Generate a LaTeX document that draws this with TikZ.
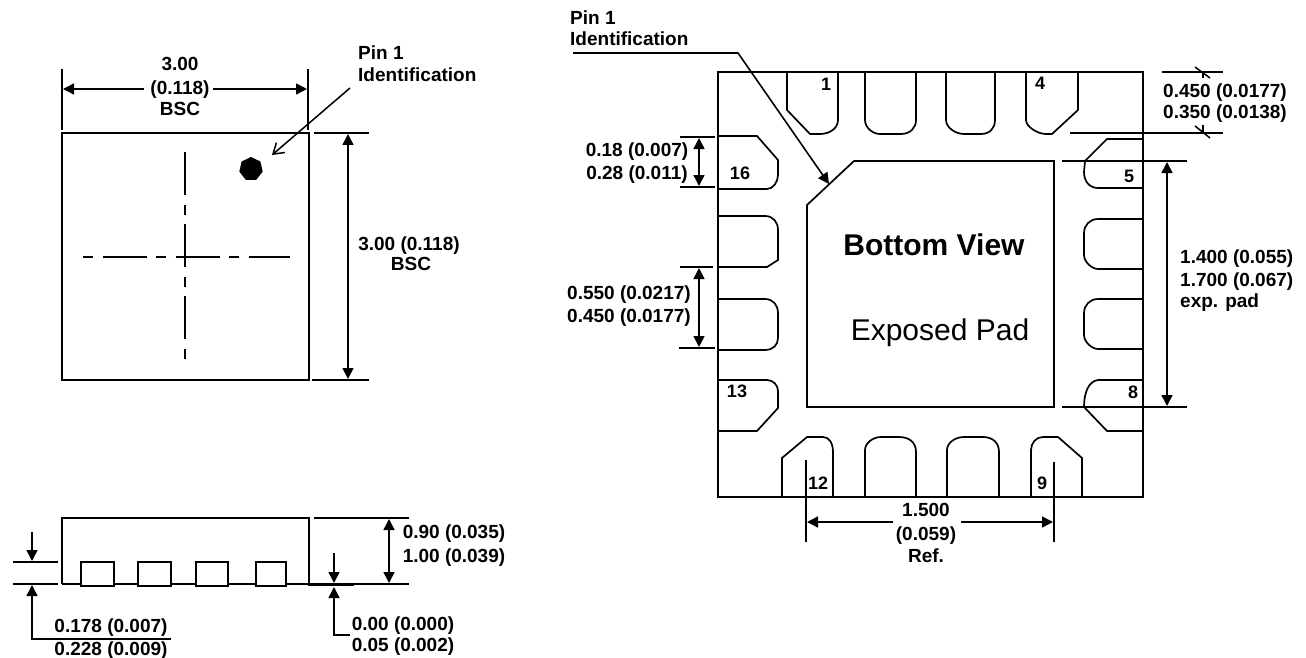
\documentclass[tikz,border=0pt]{standalone}
\usepackage{fontspec}
\setmainfont{Liberation Sans}
\usetikzlibrary{arrows.meta,shapes.geometric}
\tikzset{
  body/.style={line width=1.7pt},
  extline/.style={line width=2.1pt},
  dimline/.style={line width=1.6pt,{Triangle[length=11pt,width=11pt]}-{Triangle[length=11pt,width=11pt]}},
  dimend/.style={line width=1.6pt,-{Triangle[length=11pt,width=11pt]}},
  lbl/.style={inner sep=0pt,text height=13.7pt,text depth=0pt,font=\fontsize{19}{22}\selectfont\bfseries},
  pinlbl/.style={inner sep=0pt,text height=13pt,text depth=0pt,font=\fontsize{18}{20}\selectfont\bfseries},
  biglbl/.style={inner sep=0pt,text height=21.5pt,text depth=0pt,font=\fontsize{30}{34}\selectfont},
}
\begin{document}
\begin{tikzpicture}[x=1pt,y=-1pt]
    \useasboundingbox (0,0) rectangle (1306,658);

    % Dibuja la vista superior
    \draw[body] (62,133) rectangle (309,380);
    \node[regular polygon,regular polygon sides=7,fill=black,inner sep=0pt,minimum size=24pt] (dot) at (251,169) {};
    \draw[line width=1.4pt,dash pattern=on 43pt off 10pt on 10pt off 9pt] (185,152) -- (185,359);
    \draw[line width=1.4pt,dash pattern=on 10pt off 9.5pt on 44pt off 9.5pt] (83,257) -- (290,257);

    % Dibuja las cotas de la vista superior
    \draw[extline] (62,69) -- (62,130);
    \draw[extline] (308,69) -- (308,130);
    \draw[dimend] (144,89) -- (63,89);
    \draw[dimend] (213,89) -- (307,89);
    \node[lbl] (topa) at (180,64) {3.00};
    \node[lbl] (topb) at (180,88) {(0.118)};
    \node[lbl] (topc) at (180,109) {BSC};
    \draw[extline] (314,133) -- (369,133);
    \draw[extline] (312,380) -- (369,380);
    \draw[dimline] (348,134) -- (348,379);
    \node[lbl] (sidea) at (409,244) {3.00 (0.118)};
    \node[lbl] (sideb) at (411,264) {BSC};

    % Dibuja la marca del pin 1
    \node[lbl,anchor=west] (pina) at (358,53) {Pin 1};
    \node[lbl,anchor=west] (pinb) at (358,75) {Identification};
    \draw[line width=1.5pt,-{Straight Barb[length=10pt,width=13pt]}] (350,88) -- (272,155);

    % Dibuja la vista lateral
    \draw[body] (62,584) -- (62,518) -- (309,518) -- (309,584);
    \draw[line width=1.4pt] (62,584) -- (309,584);
    \draw[body,fill=white] (81,562) rectangle (114,586);
    \draw[body,fill=white] (138,562) rectangle (171,586);
    \draw[body,fill=white] (196,562) rectangle (228,586);
    \draw[body,fill=white] (256,562) rectangle (286,586);

    % Dibuja las cotas de la vista lateral
    \draw[extline] (13,562) -- (58,562);
    \draw[extline] (13,584) -- (58,584);
    \draw[dimend] (32,532) -- (32,561);
    \draw[dimend] (171,639) -- (32,639) -- (32,585);
    \node[lbl] (thka) at (111,626) {0.178 (0.007)};
    \node[lbl] (thkb) at (111,649) {0.228 (0.009)};
    \draw[extline] (314,518) -- (409,518);
    \draw[line width=1.4pt] (309,584) -- (409,584);
    \draw[line width=2.8pt] (308,585) -- (354,585);
    \draw[dimline] (389,519) -- (389,583);
    \node[lbl] (hga) at (454,532) {0.90 (0.035)};
    \node[lbl] (hgb) at (454,556) {1.00 (0.039)};
    \draw[dimend] (334,553) -- (334,583);
    \draw[dimend] (350,635) -- (334,635) -- (334,587);
    \node[lbl] (stda) at (403,624) {0.00 (0.000)};
    \node[lbl] (stdb) at (403,645) {0.05 (0.002)};

    % Dibuja el contorno y la almohadilla de la vista inferior
    \draw[body] (718,72) rectangle (1143,497);
    \draw[body] (807,205) -- (854,161) -- (1054,161) -- (1054,407) -- (807,407) -- cycle;
    \node[biglbl,font=\fontsize{30}{34}\selectfont\bfseries] (bottom) at (934,245) {Bottom View};
    \node[biglbl] (exposed) at (940,330) {Exposed Pad};

    % Dibuja los pines superiores
    \draw[body] (787,72) -- (787,110) -- (810,134) -- (820,134) .. controls (830,134) and (838,128) .. (838,120) -- (838,72);
    \draw[body] (865,72) -- (865,120) .. controls (865,128) and (873,134) .. (880,134) -- (901,134) .. controls (910,134) and (916,128) .. (916,120) -- (916,72);
    \draw[body] (946,72) -- (946,120) .. controls (946,128) and (956,134) .. (964,134) -- (981,134) .. controls (990,134) and (995,128) .. (995,120) -- (995,72);
    \draw[body] (1026,72) -- (1026,120) .. controls (1026,127) and (1038,134) .. (1046,134) -- (1052,134) -- (1078,110) -- (1078,72);

    % Dibuja los pines derechos
    \draw[body] (1143,139) -- (1107,139) -- (1085,161) -- (1084,172) .. controls (1084,182) and (1090,188) .. (1098,188) -- (1143,188);
    \draw[body] (1143,219) -- (1098,219) .. controls (1090,219) and (1084,225) .. (1084,233) -- (1084,255) .. controls (1084,262) and (1092,269) .. (1098,269) -- (1143,269);
    \draw[body] (1143,299) -- (1098,299) .. controls (1090,299) and (1084,305) .. (1084,313) -- (1084,335) .. controls (1084,342) and (1092,349) .. (1098,349) -- (1143,349);
    \draw[body] (1143,380) -- (1098,380) .. controls (1089,381) and (1084,392) .. (1084,407) -- (1107,431) -- (1143,431);

    % Dibuja los pines inferiores
    \draw[body] (782,497) -- (782,458) -- (807,437) -- (823,437) .. controls (829,437) and (833,443) .. (833,452) -- (833,497);
    \draw[body] (865,497) -- (865,450) .. controls (865,443) and (873,437) .. (881,437) -- (899,437) .. controls (910,437) and (916,443) .. (916,452) -- (916,497);
    \draw[body] (947,497) -- (947,450) .. controls (947,443) and (955,437) .. (964,437) -- (983,437) .. controls (993,437) and (999,443) .. (999,452) -- (999,497);
    \draw[body] (1031,497) -- (1031,450) .. controls (1031,443) and (1036,437) .. (1043,437) -- (1058,437) -- (1082,458) -- (1082,497);

    % Dibuja los pines izquierdos
    \draw[body] (718,136) -- (757,136) -- (778,160) -- (778,175) .. controls (778,182) and (773,189) .. (767,189) -- (718,189);
    \draw[body] (718,216) -- (765,216) .. controls (773,216) and (778,222) .. (778,230) -- (778,260) -- (767,267) -- (718,267);
    \draw[body] (718,299) -- (765,299) .. controls (773,299) and (778,305) .. (778,313) -- (778,338) .. controls (778,345) and (773,350) .. (765,350) -- (718,350);
    \draw[body] (718,380) -- (767,380) .. controls (773,380) and (778,385) .. (778,391) -- (778,408) -- (757,431) -- (718,431);

    % Escribe los numeros de los pines
    \node[pinlbl] (pinone) at (826,84) {1};
    \node[pinlbl] (pinfour) at (1040,83) {4};
    \node[pinlbl] (pinfive) at (1129,176) {5};
    \node[pinlbl] (pineight) at (1133,392) {8};
    \node[pinlbl] (pinnine) at (1042,483) {9};
    \node[pinlbl] (pintwelve) at (818,483) {12};
    \node[pinlbl] (pinthirteen) at (737,391) {13};
    \node[pinlbl] (pinsixteen) at (740,173) {16};

    % Dibuja la marca del pin 1 de la vista inferior
    \node[lbl,anchor=west] (markera) at (570,18) {Pin 1};
    \node[lbl,anchor=west] (markerb) at (570,39) {Identification};
    \draw[dimend] (573,53) -- (738,53) -- (829,184);

    % Dibuja las cotas izquierdas
    \draw[extline] (680,137) -- (715,137);
    \draw[extline] (680,187) -- (715,187);
    \draw[dimline] (699,138) -- (699,186);
    \node[lbl] (wida) at (637,150) {0.18 (0.007)};
    \node[lbl] (widb) at (637,173) {0.28 (0.011)};
    \draw[extline] (680,267) -- (713,267);
    \draw[extline] (679,348) -- (715,348);
    \draw[dimline] (699,268) -- (699,347);
    \node[lbl] (pitcha) at (629,293) {0.550 (0.0217)};
    \node[lbl] (pitchb) at (629,316) {0.450 (0.0177)};

    % Dibuja las cotas derechas
    \draw[extline] (1162,72) -- (1223,72);
    \draw[line width=1.5pt] (1195,67) -- (1210,78);
    \draw[line width=1.5pt] (1203,72) -- (1203,78);
    \draw[extline] (1070,133) -- (1223,133);
    \draw[line width=1.5pt] (1195,126) -- (1210,138);
    \draw[line width=1.5pt] (1203,125) -- (1203,133);
    \node[lbl] (lena) at (1225,91) {0.450 (0.0177)};
    \node[lbl] (lenb) at (1225,112) {0.350 (0.0138)};
    \draw[extline] (1062,161) -- (1187,161);
    \draw[extline] (1062,407) -- (1187,407);
    \draw[dimline] (1167,162) -- (1167,406);
    \node[lbl,anchor=west] (expa) at (1180,257) {1.400 (0.055)};
    \node[lbl,anchor=west] (expb) at (1180,280) {1.700 (0.067)};
    \node[lbl,anchor=west] (expc) at (1180,301) {exp. pad};

    % Dibuja la cota inferior
    \draw[extline] (806,460) -- (806,542);
    \draw[extline] (1054,462) -- (1054,542);
    \draw[dimend] (893,522) -- (807,522);
    \draw[dimend] (961,522) -- (1053,522);
    \node[lbl] (refa) at (926,510) {1.500};
    \node[lbl] (refb) at (926,534) {(0.059)};
    \node[lbl] (refc) at (926,556) {Ref.};
\end{tikzpicture}
\end{document}
